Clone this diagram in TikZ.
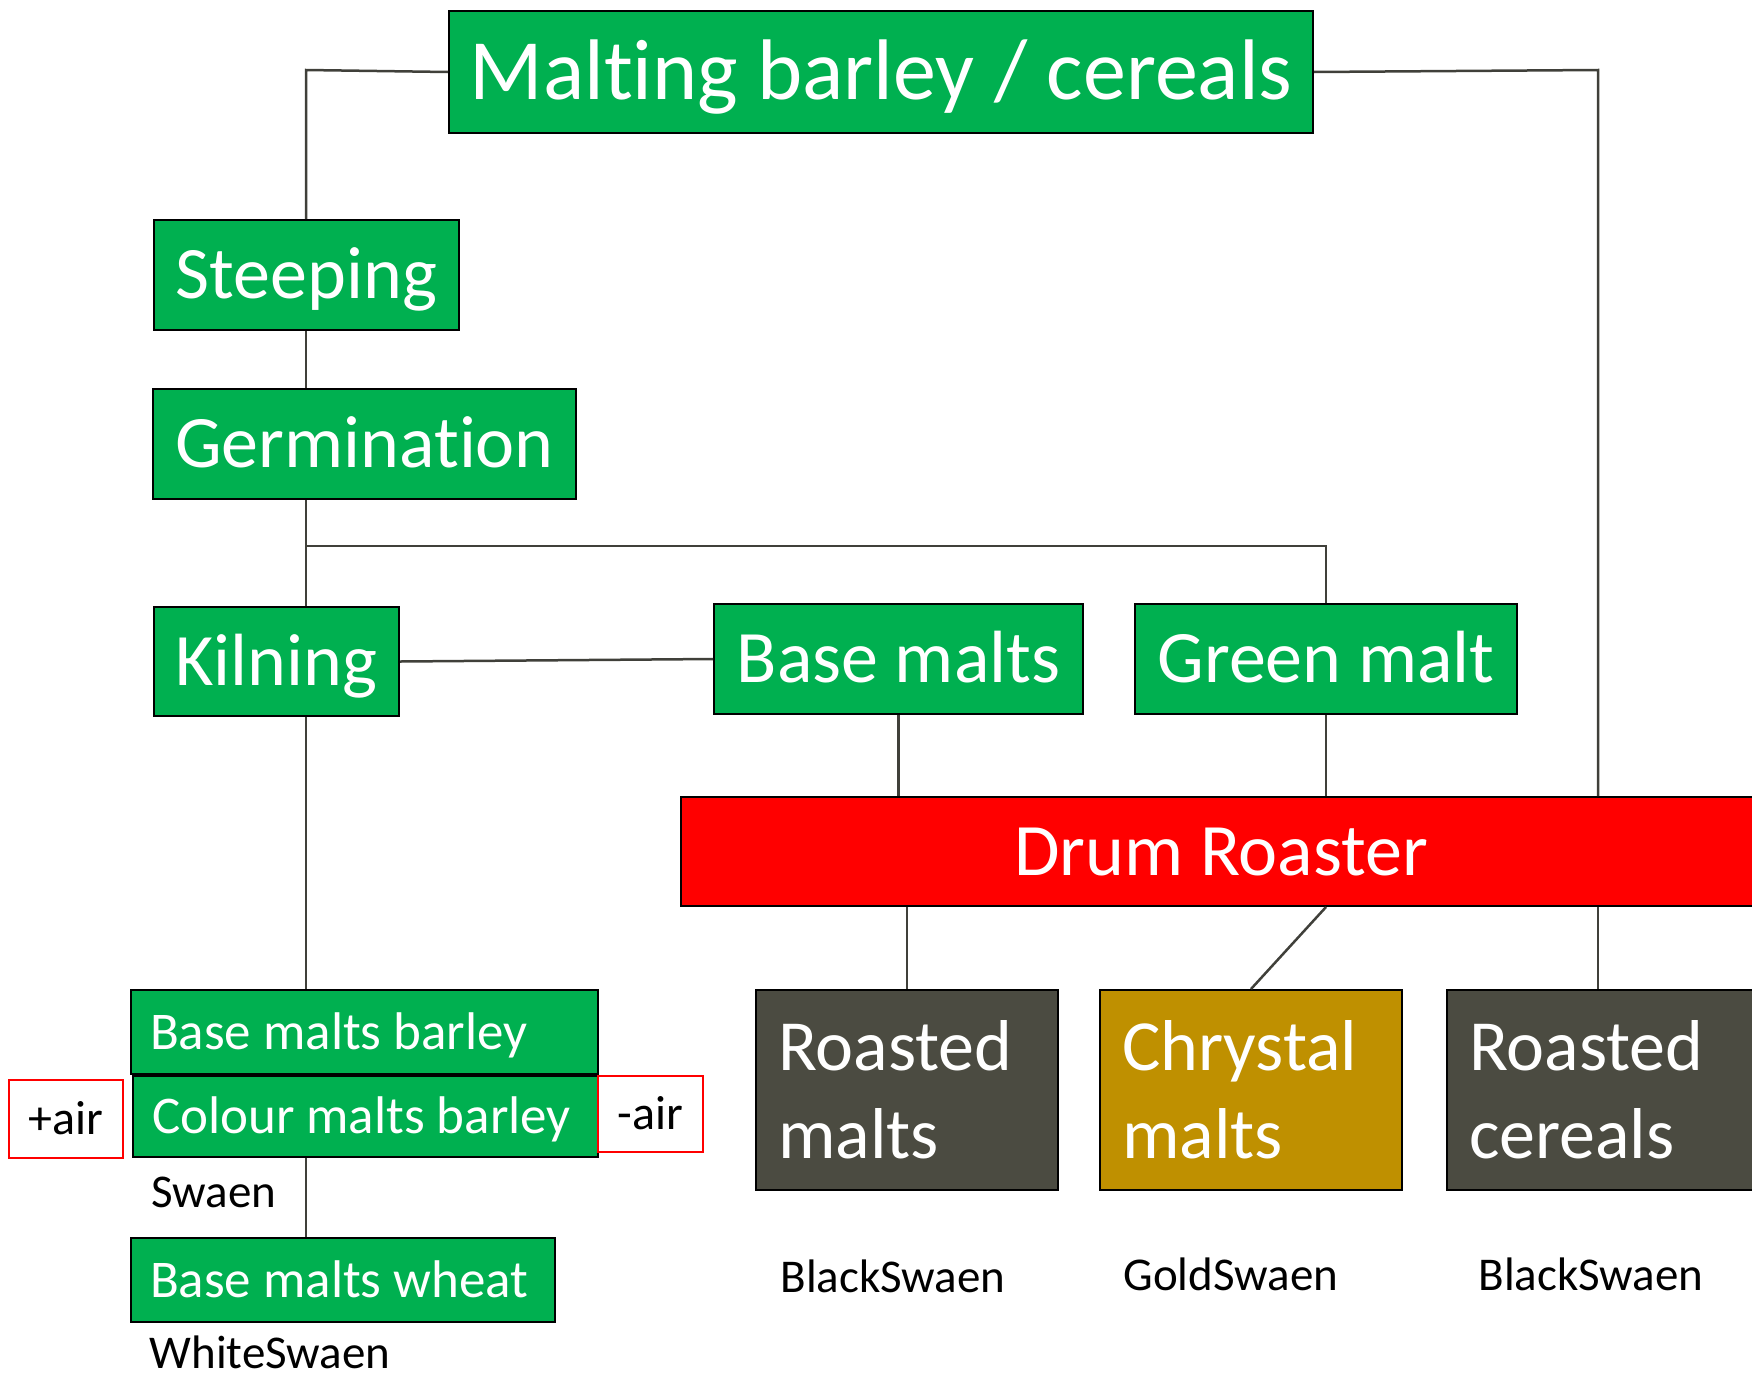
\documentclass[tikz,border=0pt]{standalone}
\usepackage{fontspec}
\setmainfont{Carlito}[Ligatures=NoCommon]
\definecolor{maltgreen}{RGB}{0,176,80}
\definecolor{roastred}{RGB}{255,0,0}
\definecolor{roastgrey}{RGB}{75,75,65}
\definecolor{chrystalgold}{RGB}{191,144,0}
\definecolor{linegrey}{RGB}{64,64,58}
\usetikzlibrary{positioning,calc}

\begin{document}
\begin{tikzpicture}[x=1pt,y=-1pt,
	box/.style={draw=black, line width=2pt, inner sep=0pt, anchor=north west, text=white, text depth=0pt},
	stage/.style={box, fill=maltgreen, font=\fontsize{74}{90}\selectfont, text height=47.7pt},
	malt/.style={box, fill=maltgreen, font=\fontsize{53}{64}\selectfont, text height=34pt, align=flush left, inner xsep=19pt},
	roast/.style={draw=black, line width=2pt, anchor=north west, inner xsep=22pt, inner ysep=0pt, text=white, align=flush left, font=\fontsize{72}{88}\selectfont, minimum height=200pt},
	airbox/.style={draw=roastred, line width=1.5pt, inner sep=0pt, anchor=north west, font=\fontsize{48}{58}\selectfont, text height=31pt, text depth=0pt},
	brand/.style={anchor=base west, font=\fontsize{47}{56}\selectfont},
	link/.style={draw=linegrey, line width=2.5pt}
	]
	\useasboundingbox (0,0) rectangle (1752,1373);
	
	% process steps
	\node[stage, minimum width=864pt, minimum height=122pt, font=\fontsize{86}{100}\selectfont, text height=55.4pt] (malting) at (448,10) {Malting barley / cereals};
	\node[stage, minimum width=305pt, minimum height=110pt] (steeping) at (153,219) {Steeping};
	\node[stage, minimum width=423pt, minimum height=110pt] (germination) at (152,388) {Germination};
	\node[stage, minimum width=245pt, minimum height=109pt] (kilning) at (153,606) {Kilning};
	\node[stage, minimum width=369pt, minimum height=110pt] (basemalts) at (713,603) {Base malts};
	\node[stage, minimum width=382pt, minimum height=110pt] (greenmalt) at (1134,603) {Green malt};
	\node[stage, fill=roastred, minimum width=1080pt, minimum height=109pt] (drum) at (680,796) {Drum Roaster};
	
	% kilned malts
	\node[malt, text width=429pt, minimum height=84pt] (barley) at (130,989) {Base malts barley};
	\node[malt, text width=427pt, minimum height=81pt] (colour) at (132,1075) {Colour malts barley};
	\node[malt, text width=386pt, minimum height=84pt] (wheat) at (130,1237) {Base malts wheat};
	\node[airbox, minimum width=114pt, minimum height=78pt] (plusair) at (8,1079) {+air};
	\node[airbox, minimum width=105pt, minimum height=76pt] (minusair) at (597,1075) {-air};
	
	% roasted products
	\node[roast, fill=roastgrey, text width=258pt] (roastedmalts) at (755,989) {Roasted\\malts};
	\node[roast, fill=chrystalgold, text width=258pt] (chrystal) at (1099,989) {Chrystal\\malts};
	\node[roast, fill=roastgrey, text width=270pt] (cereals) at (1446,989) {Roasted\\cereals};
	
	% Text Node
	\node[brand] (swaen) at (148,1207) {Swaen};
	\node[brand] (whiteswaen) at (146,1368) {WhiteSwaen};
	\node[brand] (blackswaen) at (777,1292) {BlackSwaen};
	\node[brand] (goldswaen) at (1120,1290) {GoldSwaen};
	\node[brand] (blackswaentwo) at (1475,1290) {BlackSwaen};
	
	\coordinate (spine) at (306,70);
	\coordinate (fork) at (306,546);
	\coordinate (rightcorner) at (1598,70);
	
	% connectors
	\draw[link] (malting.west) -- (spine) -- (spine |- steeping.north);
	\draw[link] (spine |- steeping.south) -- (spine |- germination.north);
	\draw[link] (spine |- germination.south) -- (spine |- kilning.north);
	\draw[link] (fork) -| (greenmalt.north);
	\draw[link] (kilning.east) -- (basemalts.west);
	\draw[link] (spine |- kilning.south) -- (spine |- barley.north);
	\draw[link] (spine |- colour.south) -- (spine |- wheat.north);
	\draw[link] (basemalts.south) -- (basemalts.south |- drum.north);
	\draw[link] (greenmalt.south) -- (greenmalt.south |- drum.north);
	\draw[link] (malting.east) -- (rightcorner) -- (rightcorner |- drum.north);
	\draw[link] (roastedmalts.north |- drum.south) -- (roastedmalts.north);
	\draw[link] (greenmalt.south |- drum.south) -- (chrystal.north);
	\draw[link] (rightcorner |- drum.south) -- (rightcorner |- cereals.north);
\end{tikzpicture}
\end{document}
